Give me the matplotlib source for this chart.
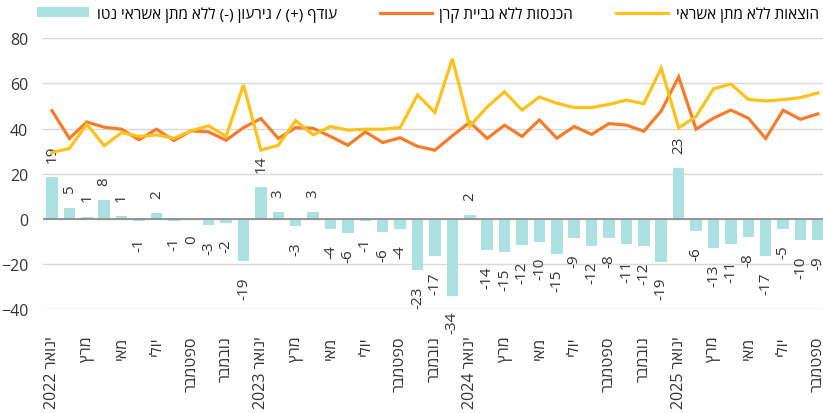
import re
import numpy as np
import matplotlib
matplotlib.use("Agg")
import matplotlib.pyplot as plt
from matplotlib.patches import Patch
from matplotlib.lines import Line2D

plt.rcParams['font.family'] = ['Open Sans', 'DejaVu Sans']

# ---- data (billions, monthly Jan 2022 - Sep 2025) ----
month_names = ["ינואר", "פברואר", "מרץ", "אפריל", "מאי", "יוני",
               "יולי", "אוגוסט", "ספטמבר", "אוקטובר", "נובמבר", "דצמבר"]
years = [2022, 2023, 2024, 2025]
n_months = 45

income = [47.9, 35.6, 42.9, 40.6, 39.7, 35.0, 39.7, 34.7, 39.0, 38.5, 34.8, 40.4,
          44.4, 35.6, 40.4, 40.1, 36.5, 32.6, 38.5, 33.8, 35.9, 32.1, 30.4, 36.8,
          42.8, 35.6, 41.5, 36.5, 43.8, 35.7, 40.9, 37.4, 42.2, 41.5, 38.8, 47.8,
          62.9, 39.7, 44.6, 48.2, 44.6, 35.6, 48.1, 44.1, 46.5]
expenses = [29.4, 31.2, 41.9, 32.4, 38.2, 36.5, 37.2, 35.7, 39.0, 41.2, 36.5, 59.3,
            30.4, 32.6, 43.5, 37.2, 40.9, 39.3, 39.7, 39.7, 40.4, 54.9, 47.1, 70.9,
            41.0, 49.6, 56.3, 48.2, 54.0, 51.2, 49.3, 49.3, 50.7, 52.6, 51.0, 66.8,
            40.3, 45.3, 57.6, 59.7, 52.9, 52.2, 52.8, 53.7, 55.8]
net = [18.6, 4.6, 1.0, 8.2, 1.3, -1.2, 2.4, -1.0, -0.3, -2.7, -1.7, -18.9,
       14.0, 3.0, -3.1, 2.9, -4.4, -6.4, -1.2, -5.9, -4.5, -22.8, -16.7, -34.1,
       1.6, -14.0, -14.8, -11.7, -10.2, -15.4, -8.6, -11.9, -8.5, -11.1, -12.2, -19.0,
       22.6, -5.6, -13.0, -11.3, -8.3, -16.6, -4.7, -9.6, -9.3]

legend_net = "עודף (+) / גירעון (-) ללא מתן אשראי נטו"
legend_income = "הכנסות ללא גביית קרן"
legend_expenses = "הוצאות ללא מתן אשראי"


def heb(s):
    # matplotlib draws left-to-right: flip hebrew, keep numbers readable
    r = s[::-1]
    r = re.sub(r'\d+', lambda m: m.group(0)[::-1], r)
    return r.translate(str.maketrans('()', ')('))


labels = []
for y in years:
    for j, m in enumerate(month_names):
        labels.append(f"{m} {y}" if j == 0 else m)
labels = labels[:n_months]

x = np.arange(n_months)

fig = plt.figure(figsize=(8.23, 4.14), dpi=100)
ax = fig.add_axes([43.3 / 823, 104 / 414, 783.3 / 823, 270.7 / 414])

bar_color = "#ABE1E0"
orange = "#F57C2A"
yellow = "#FFC21A"

ax.bar(x, net, width=0.66, color=bar_color, zorder=2)
ax.plot(x, income, color=orange, lw=2.3, zorder=3, solid_joinstyle='miter')
ax.plot(x, expenses, color=yellow, lw=2.3, zorder=4, solid_joinstyle='miter')

for xi, v in zip(x, net):
    lab = str(int(round(v)))
    if v > 0:
        ax.annotate(lab, (xi, v), xytext=(0, 11), textcoords='offset points',
                    rotation=90, ha='center', va='bottom', fontsize=11, color="#333333")
    else:
        ax.annotate(lab, (xi, v), xytext=(0, -11), textcoords='offset points',
                    rotation=90, ha='center', va='top', fontsize=11, color="#333333")

ax.set_xlim(-0.5, n_months - 0.5)
ax.set_ylim(-40, 80)
ax.set_yticks([-40, -20, 0, 20, 40, 60, 80])
ax.grid(axis='y', color="#D9D9D9", lw=1, zorder=0)
ax.axhline(0, color="#8C8C8C", lw=1.3, zorder=2.5)
for s in ax.spines.values():
    s.set_visible(False)

ax.set_xticks(x[::2])
ax.set_xticklabels([heb(l) for l in labels[::2]], rotation=90, fontsize=11.5,
                   va='top', ha='center', color="#333333")
ax.tick_params(axis='x', length=0, pad=19)
ax.tick_params(axis='y', length=0, pad=11, labelsize=11.5, labelcolor="#333333")

handles = [Patch(facecolor=bar_color, edgecolor='none'),
           Line2D([], [], color=orange, lw=2.3),
           Line2D([], [], color=yellow, lw=2.3)]
fig.legend(handles, [heb(legend_net), heb(legend_income), heb(legend_expenses)],
           loc='center', bbox_to_anchor=(428 / 823, 1 - 15 / 414), ncol=3,
           frameon=False, fontsize=11, handlelength=3.4, handleheight=0.65,
           handletextpad=0.5, columnspacing=2.8, borderaxespad=0, borderpad=0)

fig.savefig("out.png", dpi=100)
